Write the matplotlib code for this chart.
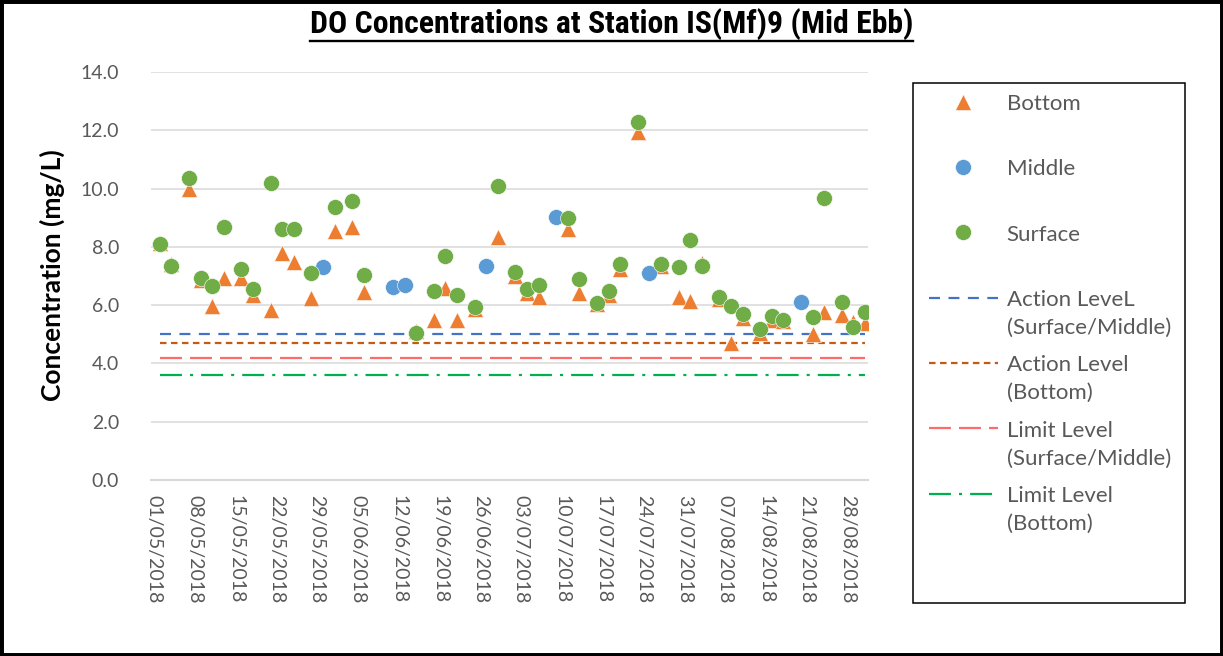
import numpy as np
import pandas as pd
import matplotlib
matplotlib.use("Agg")
import matplotlib.pyplot as plt
import matplotlib.dates as mdates
from matplotlib import font_manager as fm
from matplotlib.lines import Line2D
from matplotlib.legend_handler import HandlerLine2D
from matplotlib.patches import Rectangle

# ---------------- data ----------------
nan = np.nan
dates = ["02/05/2018", "04/05/2018", "07/05/2018", "09/05/2018", "11/05/2018", "13/05/2018",
         "16/05/2018", "18/05/2018", "21/05/2018", "23/05/2018", "25/05/2018", "28/05/2018",
         "30/05/2018", "01/06/2018", "04/06/2018", "06/06/2018", "11/06/2018", "13/06/2018",
         "15/06/2018", "18/06/2018", "20/06/2018", "22/06/2018", "25/06/2018", "27/06/2018",
         "29/06/2018", "02/07/2018", "04/07/2018", "06/07/2018", "09/07/2018", "11/07/2018",
         "13/07/2018", "16/07/2018", "18/07/2018", "20/07/2018", "23/07/2018", "25/07/2018",
         "27/07/2018", "30/07/2018", "01/08/2018", "03/08/2018", "06/08/2018", "08/08/2018",
         "10/08/2018", "13/08/2018", "15/08/2018", "17/08/2018", "20/08/2018", "22/08/2018",
         "24/08/2018", "27/08/2018", "29/08/2018", "31/08/2018"]

bottom = [8.12, 7.40, 10.00, 6.85, 5.98, 6.92, 6.92, 6.35, 5.83, 7.78, 7.49, 6.23,
          nan, 8.54, 8.67, 6.44, nan, nan, 5.10, 5.49, 6.58, 5.49, 5.87, nan,
          8.33, 7.00, 6.41, 6.29, nan, 8.60, 6.41, 6.05, 6.35, 7.23, 11.95, nan,
          7.35, 6.29, 6.14, 7.44, 6.20, 4.69, 5.55, 5.05, 5.49, 5.45, nan, 5.00,
          5.78, 5.66, 5.43, 5.38]

middle = [nan, nan, nan, nan, nan, nan, nan, nan, nan, nan, nan, nan,
          7.30, nan, nan, nan, 6.63, 6.69, nan, nan, nan, nan, nan, 7.34,
          nan, nan, nan, nan, 9.04, nan, nan, nan, nan, nan, nan, 7.09,
          nan, nan, nan, nan, nan, nan, nan, nan, nan, nan, 6.10, nan,
          nan, nan, nan, nan]

surface = [8.09, 7.34, 10.35, 6.94, 6.66, 8.69, 7.24, 6.55, 10.20, 8.60, 8.60, 7.09,
           nan, 9.38, 9.59, 7.05, nan, nan, 5.06, 6.50, 7.70, 6.35, 5.95, nan,
           10.09, 7.15, 6.54, 6.69, nan, 8.98, 6.89, 6.09, 6.50, 7.40, 12.27, nan,
           7.40, 7.30, 8.24, 7.36, 6.29, 5.98, 5.70, 5.19, 5.64, 5.49, nan, 5.60,
           9.69, 6.12, 5.26, 5.78]

action_level_sm = 5.0
action_level_bottom = 4.7
limit_level_sm = 4.2
limit_level_bottom = 3.6

series_labels = ["Bottom", "Middle", "Surface",
                 "Action LeveL\n(Surface/Middle)", "Action Level\n(Bottom)",
                 "Limit Level\n(Surface/Middle)", "Limit Level\n(Bottom)"]
title_text = "DO Concentrations at Station IS(Mf)9 (Mid Ebb)"
y_label = "Concentration (mg/L)"
y_ticks = [0, 2, 4, 6, 8, 10, 12, 14]
x_tick_start, x_tick_end = "01/05/2018", "28/08/2018"

# ---------------- style ----------------
plt.rcParams["font.family"] = ["Lato", "DejaVu Sans"]
plt.rcParams["lines.scale_dashes"] = False

W, H = 1223, 656
fig = plt.figure(figsize=(W / 100, H / 100), dpi=100)
ax = fig.add_axes([151 / W, 1 - 480 / H, (868 - 151) / W, (480 - 72) / H])

x = pd.to_datetime(dates, format="%d/%m/%Y")
n = len(x)

ms = 11.5
ax.plot(x, bottom, ls="none", marker="^", ms=11, color="#ED7D31",
        mec="white", mew=0.4, label=series_labels[0], zorder=3)
ax.plot(x, middle, ls="none", marker="o", ms=ms, color="#5B9BD5",
        mec="white", mew=0.4, label=series_labels[1], zorder=4)
ax.plot(x, surface, ls="none", marker="o", ms=ms, color="#70AD47",
        mec="white", mew=0.4, label=series_labels[2], zorder=5)

lw = 1.6
ax.plot(x, np.full(n, action_level_sm), color="#4472C4", lw=lw,
        ls=(0, (7.9, 6.1)), label=series_labels[3], zorder=2)
ax.plot(x, np.full(n, action_level_bottom), color="#C55A11", lw=lw,
        ls=(0, (4.7, 3.2)), label=series_labels[4], zorder=2)
ax.plot(x, np.full(n, limit_level_sm), color="#FF6B6B", lw=lw,
        ls=(0, (15.8, 5.8)), label=series_labels[5], zorder=2)
ax.plot(x, np.full(n, limit_level_bottom), color="#00B050", lw=lw,
        ls=(0, (15.8, 5.8, 2.2, 5.8)), label=series_labels[6], zorder=2)

# axes
ax.set_ylim(0, 14)
ax.set_yticks(y_ticks)
ax.set_yticklabels([f"{v:.1f}" for v in y_ticks])
ax.set_xlim(pd.Timestamp("2018-04-30 12:00"), pd.Timestamp("2018-08-31 12:00"))
xt = pd.date_range(pd.to_datetime(x_tick_start, format="%d/%m/%Y"),
                   pd.to_datetime(x_tick_end, format="%d/%m/%Y"), freq="7D")
ax.set_xticks(xt)
ax.xaxis.set_major_formatter(mdates.DateFormatter("%d/%m/%Y"))
for lab in ax.get_xticklabels():
    lab.set_rotation(-90)
    lab.set_ha("center")
    lab.set_va("top")
ax.tick_params(axis="both", length=0, labelsize=14, labelcolor="#595959")
ax.tick_params(axis="y", pad=23)
ax.tick_params(axis="x", pad=11)
for s in ["left", "right", "top"]:
    ax.spines[s].set_visible(False)
ax.spines["bottom"].set_color("#D9D9D9")
ax.spines["bottom"].set_linewidth(1.5)
ax.grid(axis="y", color="#D9D9D9", lw=1.1, zorder=0)
ax.set_axisbelow(True)

fig.text(52 / W, 1 - 275 / H, y_label, rotation=90, ha="center", va="center",
         fontsize=19, fontweight="bold", color="black")


# ---------------- title (condensed bold if available) ----------------
def title_font():
    names = {f.name for f in fm.fontManager.ttflist}
    for p in ["Liberation Sans Narrow", "Arial Narrow", "Roboto Condensed",
              "Open Sans Condensed", "Noto Sans Condensed", "DejaVu Sans Condensed"]:
        if p in names:
            return fm.FontProperties(family=p, weight="bold")
    cands = []
    for f in fm.fontManager.ttflist:
        fn = f.fname.lower()
        if ("condensed" in fn or "narrow" in fn) and "bold" in fn and "italic" not in fn \
                and "semibold" not in fn and "extrabold" not in fn:
            cands.append(f.fname)
    for key in ["liberation", "roboto", "opensans", "notosans-", "dejavu"]:
        for c in cands:
            if key in c.lower().replace(" ", ""):
                return fm.FontProperties(fname=c)
    if cands:
        return fm.FontProperties(fname=cands[0])
    return fm.FontProperties(family="Liberation Sans", weight="bold")


tfp = title_font()
tfp.set_size(19)
t = fig.text(0.5, 1 - 24 / H, title_text, ha="center", va="center",
             fontproperties=tfp, color="black")
fig.canvas.draw()
wpx = t.get_window_extent().width
tfp.set_size(min(24, 19 * 602 / wpx))
t.set_fontproperties(tfp)


# ---------------- legend ----------------
class FirstLineHandler(HandlerLine2D):
    def __init__(self, shift, **kw):
        super().__init__(**kw)
        self.shift = shift

    def create_artists(self, legend, orig_handle, xdescent, ydescent, width,
                       height, fontsize, trans):
        arts = super().create_artists(legend, orig_handle, xdescent, ydescent,
                                      width, height, fontsize, trans)
        for a in arts:
            a.set_ydata(np.asarray(a.get_ydata(), float) + self.shift)
        return arts


handles, labels = ax.get_legend_handles_labels()
labels = [lb if "\n" in lb else lb + "\n" for lb in labels]
leg_fs = 16
leg = fig.legend(handles, labels, loc="upper left",
                 bbox_to_anchor=(929 / W, 1 - 94 / H), bbox_transform=fig.transFigure,
                 frameon=False, fontsize=leg_fs, handlelength=3.1, handletextpad=0.4,
                 labelspacing=0.78, borderpad=0, borderaxespad=0, numpoints=1,
                 handler_map={Line2D: FirstLineHandler(12.0)})
for tx in leg.get_texts():
    tx.set_color("#595959")
    tx.set_linespacing(1.5)

fig.patches.append(Rectangle((913 / W, 1 - 603 / H), (1185 - 913) / W, (603 - 83) / H,
                             transform=fig.transFigure, fill=False, ec="black", lw=1.1))
fig.patches.append(Rectangle((0, 0), 1, 1, transform=fig.transFigure, fill=False,
                             ec="black", lw=5))

fig.canvas.draw()
bb = t.get_window_extent()
uy = bb.y0 - 1
fig.add_artist(Line2D([bb.x0, bb.x1], [uy, uy], color="black", lw=1.7, transform=None))

fig.savefig("out.png", dpi=100)
